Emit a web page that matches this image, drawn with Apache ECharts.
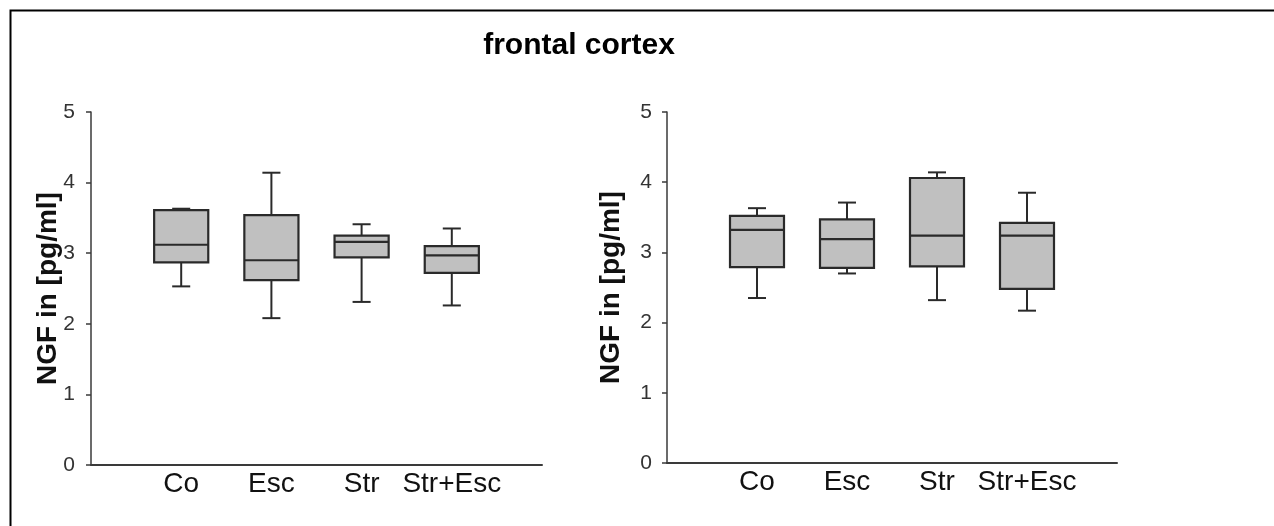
<!DOCTYPE html>
<html>
<head>
<meta charset="utf-8">
<script src="https://cdn.jsdelivr.net/npm/echarts@6/dist/echarts.min.js"></script>
<style>
html,body{margin:0;padding:0;background:#fff;}
#c{width:1274px;height:526px;}
</style>
</head>
<body>
<div id="c"></div>
<script>
// ---- data ----
const titleText = 'frontal cortex';
const yName = 'NGF in [pg/ml]';
const categories = ['', 'Co', 'Esc', 'Str', 'Str+Esc', ''];
const yTicks = [0, 1, 2, 3, 4, 5];
// [categoryIndex, min, Q1, median, Q3, max]
const leftBoxes = [
  [1, 2.53, 2.87, 3.12, 3.61, 3.63],
  [2, 2.08, 2.62, 2.90, 3.54, 4.14],
  [3, 2.31, 2.94, 3.16, 3.25, 3.41],
  [4, 2.26, 2.72, 2.97, 3.10, 3.35]
];
const rightBoxes = [
  [1, 2.35, 2.79, 3.32, 3.52, 3.63],
  [2, 2.70, 2.78, 3.19, 3.47, 3.71],
  [3, 2.32, 2.80, 3.24, 4.06, 4.14],
  [4, 2.17, 2.48, 3.24, 3.42, 3.85]
];

const FONT = "'Liberation Sans', Arial, sans-serif";
const NARROW = "'Liberation Sans Narrow', 'Liberation Sans', Arial, sans-serif";
const EDGE = '#2a2a2a';
const FILL = '#c0c0c0';

function renderBox(params, api) {
  const cat = api.value(0);
  const lo = api.coord([cat, api.value(1)]);
  const q1 = api.coord([cat, api.value(2)]);
  const med = api.coord([cat, api.value(3)]);
  const q3 = api.coord([cat, api.value(4)]);
  const hi = api.coord([cat, api.value(5)]);
  const band = api.size([1, 0])[0];
  const bw = band * 0.6, cw = band * 0.2;
  const x = lo[0];
  const ln = { stroke: EDGE, lineWidth: 2 };
  return {
    type: 'group',
    children: [
      { type: 'line', shape: { x1: x, y1: q1[1], x2: x, y2: lo[1] }, style: ln },
      { type: 'line', shape: { x1: x, y1: q3[1], x2: x, y2: hi[1] }, style: ln },
      { type: 'line', shape: { x1: x - cw / 2, y1: lo[1], x2: x + cw / 2, y2: lo[1] }, style: ln },
      { type: 'line', shape: { x1: x - cw / 2, y1: hi[1], x2: x + cw / 2, y2: hi[1] }, style: ln },
      { type: 'rect', shape: { x: x - bw / 2, y: q3[1], width: bw, height: q1[1] - q3[1] },
        style: { fill: FILL, stroke: EDGE, lineWidth: 2.2 } },
      { type: 'line', shape: { x1: x - bw / 2, y1: med[1], x2: x + bw / 2, y2: med[1] }, style: { stroke: EDGE, lineWidth: 2.2 } }
    ]
  };
}

function xAxisFor(gridIndex) {
  return {
    type: 'category', gridIndex, data: categories, boundaryGap: false,
    axisLine: { lineStyle: { color: '#3a3a3a', width: 2 } },
    axisTick: { show: false },
    axisLabel: { interval: 0, margin: 5, fontFamily: FONT, fontSize: 28, color: '#111' },
    splitLine: { show: false }
  };
}
function yAxisFor(gridIndex, gap, labelMargin) {
  return {
    type: 'value', gridIndex, min: yTicks[0], max: yTicks[yTicks.length - 1], interval: 1,
    name: yName, nameLocation: 'middle', nameGap: gap, nameMoveOverlap: false,
    nameTextStyle: { fontFamily: FONT, fontSize: 28, fontWeight: 'bold', color: '#111' },
    axisLine: { show: true, lineStyle: { color: '#3a3a3a', width: 1.5 } },
    axisTick: { show: true, length: 5, lineStyle: { color: '#3a3a3a', width: 1.5 } },
    axisLabel: { margin: labelMargin, fontFamily: NARROW, fontSize: 21, color: '#333' },
    splitLine: { show: false }
  };
}

const chart = echarts.init(document.getElementById('c'), null, { renderer: 'canvas' });
chart.setOption({
  animation: false,
  backgroundColor: '#fff',
  title: {
    text: titleText, left: 574, top: 26, textAlign: 'center',
    textStyle: { fontFamily: FONT, fontSize: 30, fontWeight: 'bold', color: '#000' }
  },
  graphic: [{
    type: 'rect', left: 8, top: 8, silent: true,
    shape: { x: 0, y: 0, width: 1300, height: 600 },
    style: { fill: 'none', stroke: '#000', lineWidth: 2 }
  }],
  grid: [
    { left: 91, top: 112, width: 451, height: 353, containLabel: false },
    { left: 667, top: 112, width: 450, height: 351, containLabel: false }
  ],
  xAxis: [xAxisFor(0), xAxisFor(1)],
  yAxis: [yAxisFor(0, 29, 16), yAxisFor(1, 42, 15)],
  series: [
    { type: 'custom', xAxisIndex: 0, yAxisIndex: 0, renderItem: renderBox,
      encode: { x: 0, y: [1, 2, 3, 4, 5] }, data: leftBoxes },
    { type: 'custom', xAxisIndex: 1, yAxisIndex: 1, renderItem: renderBox,
      encode: { x: 0, y: [1, 2, 3, 4, 5] }, data: rightBoxes }
  ]
});
</script>
</body>
</html>
